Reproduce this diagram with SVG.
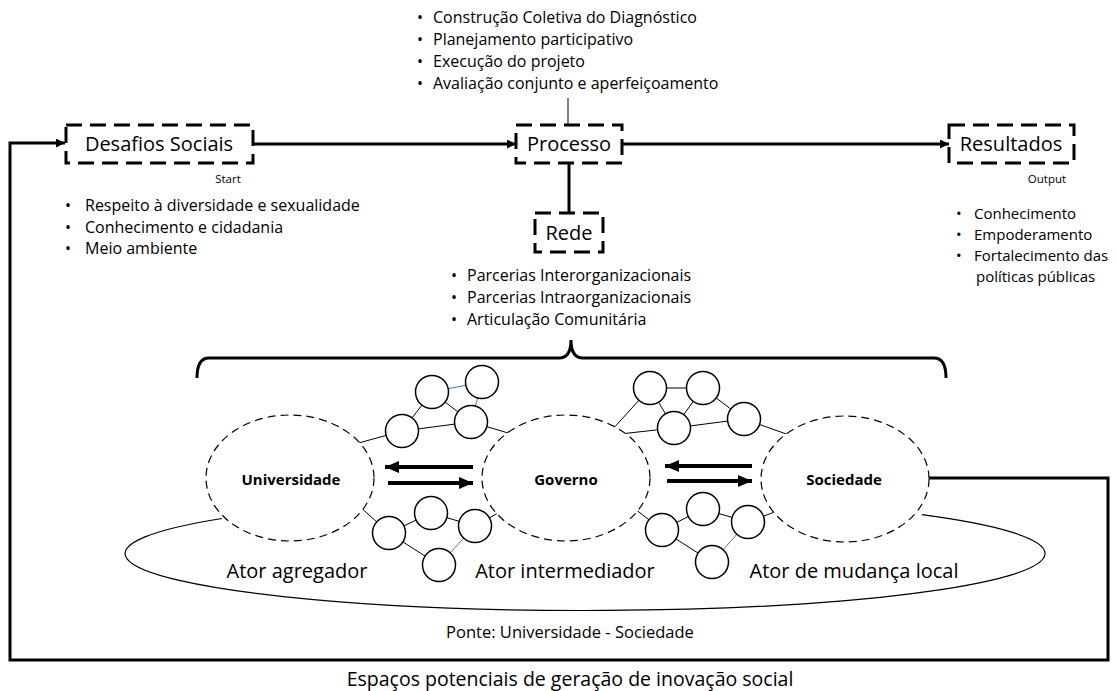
<svg xmlns="http://www.w3.org/2000/svg" width="1117" height="691" viewBox="0 0 1117 691">
<style>
text{font-family:"Open Sans","Noto Sans",sans-serif;fill:#000}
.t{font-size:16px}
.r{font-size:15px}
.h{font-size:20px}
.s{font-size:11.5px}
.b{font-size:15px;font-weight:bold}
.a{font-size:20px}
.box{fill:none;stroke:#000;stroke-width:3;stroke-dasharray:16 8}
.act{fill:#fff;stroke:#000;stroke-width:1.2;stroke-dasharray:8 5}
.c{fill:#fff;stroke:#000;stroke-width:1.5}
.e{stroke:#000;stroke-width:1}
.eb{stroke:#4472C4;stroke-width:1}
.conn{fill:none;stroke:#000;stroke-width:3}
</style>
<defs>
<marker id="ah" markerUnits="userSpaceOnUse" markerWidth="9" markerHeight="9" refX="9" refY="4.5" orient="auto"><path d="M0,0 L9,4.5 L0,9 z" fill="#000"/></marker>
<marker id="ahb" markerUnits="userSpaceOnUse" markerWidth="14" markerHeight="12" refX="14" refY="6" orient="auto"><path d="M0,0 L14,6 L0,12 z" fill="#000"/></marker>
</defs>

<rect width="1117" height="691" fill="#fff"/>

<g id="connectors">
<line class="conn" x1="253" y1="144" x2="516" y2="144" stroke-width="2.5" marker-end="url(#ah)"/>
<line class="conn" x1="622" y1="144" x2="949" y2="144" stroke-width="2.5" marker-end="url(#ah)"/>
<line x1="568" y1="98" x2="568" y2="125" stroke="#000" stroke-width="1"/>
<line class="conn" x1="569" y1="163" x2="569" y2="213"/>
<path class="conn" d="M928 478 H1108 V660 H10 V143 H65" marker-end="url(#ah)"/>
<path class="conn" d="M197 378 Q197 358 209 358 H559 Q571 358 571 340 Q571 358 583 358 H934 Q946 358 946 378"/>
</g>

<g id="ellipse-space">
<path d="M222 518.5 A460 57 0 1 0 922 514.7" fill="none" stroke="#000" stroke-width="1.2"/>
</g>

<g id="network-edges">
<line class="eb" x1="432" y1="392" x2="482" y2="382"/>
<line class="eb" x1="482" y1="382" x2="471" y2="422"/>
<line class="e" x1="432" y1="392" x2="471" y2="422"/>
<line class="e" x1="432" y1="392" x2="402" y2="431"/>
<line class="e" x1="402" y1="431" x2="471" y2="422"/>
<line class="e" x1="402" y1="431" x2="355" y2="444"/>
<line class="e" x1="471" y1="422" x2="515" y2="435"/>

<line class="e" x1="389" y1="533" x2="431" y2="513"/>
<line class="e" x1="431" y1="513" x2="475" y2="526"/>
<line class="e" x1="389" y1="533" x2="439" y2="565"/>
<line class="eb" x1="475" y1="526" x2="439" y2="565"/>
<line class="e" x1="389" y1="533" x2="358" y2="505"/>
<line class="e" x1="475" y1="526" x2="505" y2="509"/>

<line class="e" x1="650" y1="388" x2="703" y2="388"/>
<line class="e" x1="650" y1="388" x2="674" y2="428"/>
<line class="e" x1="703" y1="388" x2="674" y2="428"/>
<line class="e" x1="674" y1="428" x2="744" y2="419"/>
<line class="e" x1="703" y1="388" x2="744" y2="419"/>
<line class="e" x1="650" y1="388" x2="612" y2="430"/>
<line class="e" x1="674" y1="428" x2="620" y2="434"/>
<line class="e" x1="744" y1="419" x2="792" y2="436"/>

<line class="e" x1="662" y1="530" x2="703" y2="509"/>
<line class="e" x1="703" y1="509" x2="748" y2="522"/>
<line class="e" x1="662" y1="530" x2="712" y2="562"/>
<line class="eb" x1="748" y1="522" x2="712" y2="562"/>
<line class="e" x1="662" y1="530" x2="630" y2="505"/>
<line class="e" x1="748" y1="522" x2="780" y2="510"/>
</g>

<g id="universidade">
<ellipse class="act" cx="290" cy="478" rx="84" ry="63"/>
<text class="b" x="291" y="485" text-anchor="middle">Universidade</text>
</g>
<g id="governo">
<ellipse class="act" cx="566" cy="478" rx="84" ry="63"/>
<text class="b" x="566" y="485" text-anchor="middle">Governo</text>
</g>
<g id="sociedade">
<ellipse class="act" cx="845" cy="479" rx="84" ry="63"/>
<text class="b" x="844" y="485" text-anchor="middle">Sociedade</text>
</g>

<g id="network-nodes">
<circle class="c" cx="432" cy="392" r="16.5"/>
<circle class="c" cx="482" cy="382" r="16.5"/>
<circle class="c" cx="471" cy="422" r="16.5"/>
<circle class="c" cx="402" cy="431" r="16.5"/>
<circle class="c" cx="431" cy="513" r="16.5"/>
<circle class="c" cx="389" cy="533" r="16.5"/>
<circle class="c" cx="475" cy="526" r="16.5"/>
<circle class="c" cx="439" cy="565" r="16.5"/>
<circle class="c" cx="650" cy="388" r="16.5"/>
<circle class="c" cx="703" cy="388" r="16.5"/>
<circle class="c" cx="674" cy="428" r="16.5"/>
<circle class="c" cx="744" cy="419" r="16.5"/>
<circle class="c" cx="703" cy="509" r="16.5"/>
<circle class="c" cx="662" cy="530" r="16.5"/>
<circle class="c" cx="748" cy="522" r="16.5"/>
<circle class="c" cx="712" cy="562" r="16.5"/>
</g>

<g id="actor-arrows">
<line x1="473" y1="467" x2="385" y2="467" stroke="#000" stroke-width="4" marker-end="url(#ahb)"/>
<line x1="388" y1="483" x2="473" y2="483" stroke="#000" stroke-width="4" marker-end="url(#ahb)"/>
<line x1="752" y1="466" x2="665" y2="466" stroke="#000" stroke-width="4" marker-end="url(#ahb)"/>
<line x1="667" y1="481" x2="752" y2="481" stroke="#000" stroke-width="4" marker-end="url(#ahb)"/>
</g>

<g id="desafios">
<rect class="box" x="66" y="125" width="187" height="38"/>
<text class="h" x="159" y="151" text-anchor="middle">Desafios Sociais</text>
<text class="s" x="228" y="183" text-anchor="middle">Start</text>
<text class="t" x="65" y="211">•</text><text class="t" x="85" y="211">Respeito à diversidade e sexualidade</text>
<text class="t" x="65" y="233">•</text><text class="t" x="85" y="233">Conhecimento e cidadania</text>
<text class="t" x="65" y="254">•</text><text class="t" x="85" y="254">Meio ambiente</text>
</g>

<g id="processo">
<rect class="box" x="516" y="125" width="106" height="38"/>
<text class="h" x="569" y="151" text-anchor="middle">Processo</text>
<text class="t" x="417" y="23">•</text><text class="t" x="433" y="23">Construção Coletiva do Diagnóstico</text>
<text class="t" x="417" y="45">•</text><text class="t" x="433" y="45">Planejamento participativo</text>
<text class="t" x="417" y="67">•</text><text class="t" x="433" y="67">Execução do projeto</text>
<text class="t" x="417" y="89">•</text><text class="t" x="433" y="89">Avaliação conjunto e aperfeiçoamento</text>
</g>

<g id="resultados">
<rect class="box" x="949" y="125" width="125" height="38"/>
<text class="h" x="1011" y="151" text-anchor="middle">Resultados</text>
<text class="s" x="1047" y="183" text-anchor="middle">Output</text>
<text class="r" x="956" y="219">•</text><text class="r" x="974" y="219">Conhecimento</text>
<text class="r" x="956" y="240">•</text><text class="r" x="974" y="240">Empoderamento</text>
<text class="r" x="956" y="261">•</text><text class="r" x="974" y="261">Fortalecimento das</text>
<text class="r" x="976" y="282">políticas públicas</text>
</g>

<g id="rede">
<rect class="box" x="535" y="213" width="68" height="39"/>
<text class="h" x="569" y="240" text-anchor="middle">Rede</text>
<text class="t" x="451" y="281">•</text><text class="t" x="467" y="281">Parcerias Interorganizacionais</text>
<text class="t" x="451" y="303">•</text><text class="t" x="467" y="303">Parcerias Intraorganizacionais</text>
<text class="t" x="451" y="325">•</text><text class="t" x="467" y="325">Articulação Comunitária</text>
</g>

<g id="labels">
<text class="a" x="297" y="578" text-anchor="middle">Ator agregador</text>
<text class="a" x="565" y="578" text-anchor="middle">Ator intermediador</text>
<text class="a" x="854" y="578" text-anchor="middle">Ator de mudança local</text>
<text x="570" y="638" text-anchor="middle" font-size="16.5">Ponte: Universidade - Sociedade</text>
<text x="570" y="686" text-anchor="middle" font-size="19.5">Espaços potenciais de geração de inovação social</text>
</g>
</svg>
